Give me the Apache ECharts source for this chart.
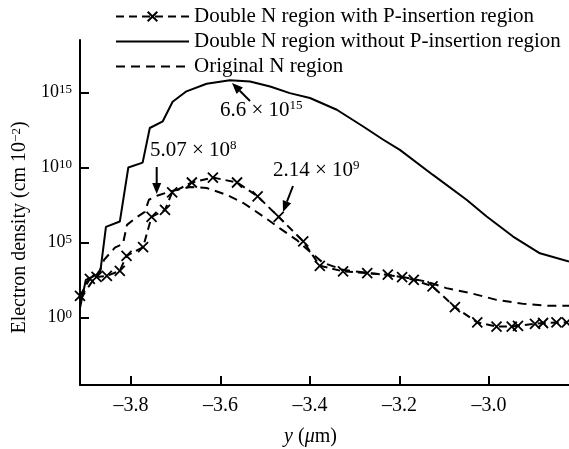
<!DOCTYPE html>
<html>
<head>
<meta charset="utf-8">
<script src="https://cdn.jsdelivr.net/npm/echarts@6/dist/echarts.min.js"></script>
<style>
html, body { margin: 0; padding: 0; background: #fff; }
#chart { width: 569px; height: 449px; }
</style>
</head>
<body>
<div id="chart"></div>
<script>
// y position (um) and electron density for each curve
const crossY = [-3.914, -3.892, -3.877, -3.854, -3.825, -3.810, -3.773, -3.754, -3.724, -3.708, -3.664, -3.617,
  -3.563, -3.517, -3.470, -3.415, -3.378, -3.326, -3.272, -3.226, -3.194, -3.168, -3.126, -3.076, -3.026,
  -2.983, -2.949, -2.935, -2.897, -2.879, -2.849, -2.826]
const crossDensity = [28, 380, 510, 600, 1300, 1.3e4, 4.9e4, 5.1e6, 1.5e7, 2.2e8, 1.0e9, 2.14e9,
  1.0e9, 1.2e8, 5.1e6, 1.2e5, 2.8e3, 1.2e3, 910, 710, 490, 320, 120, 4.9, 0.47,
  0.25, 0.25, 0.28, 0.38, 0.43, 0.47, 0.47]

const solidY = [-3.914, -3.901, -3.869, -3.856, -3.825, -3.806, -3.774, -3.758, -3.729, -3.707, -3.676, -3.631,
  -3.579, -3.534, -3.489, -3.445, -3.400, -3.340, -3.281, -3.236, -3.199, -3.125, -3.050, -3.005, -2.946,
  -2.886, -2.821]
const solidDensity = [4.3, 320, 910, 1.1e6, 2.5e6, 1.0e10, 2.1e10, 4.3e12, 1.2e13, 2.4e14, 1.2e15, 3.8e15,
  6.6e15, 5.4e15, 2.5e15, 9.1e14, 4.3e14, 7.1e13, 5.4e12, 7.1e11, 1.5e11, 3.2e9, 7.1e7, 5.4e6, 2.5e5,
  1.9e4, 5.4e3]

const origY = [-3.914, -3.892, -3.869, -3.860, -3.836, -3.818, -3.809, -3.789, -3.769, -3.760, -3.742, -3.713,
  -3.668, -3.631, -3.586, -3.549, -3.504, -3.468, -3.430, -3.400, -3.371, -3.326, -3.273, -3.199, -3.140,
  -3.095, -3.042, -2.983, -2.923, -2.864, -2.821]
const origDensity = [15, 150, 1500, 7100, 4.5e4, 8.1e4, 1.5e6, 4.5e6, 1.1e7, 7.1e7, 1.3e8, 2.5e8,
  5.07e8, 4.3e8, 1.5e8, 4.3e7, 5.4e6, 9.1e5, 1.5e5, 2.4e4, 4500, 1500, 950, 540, 250,
  91, 43, 15, 8.1, 6.0, 6.0]

const xTicks = [-3.8, -3.6, -3.4, -3.2, -3.0]
const yTicks = [0, 5, 10, 15]   // powers of ten

const seriesNames = ['Double N region with P-insertion region', 'Double N region without P-insertion region', 'Original N region']

const toPoints = (xs, ds) => xs.map((x, i) => [x, Math.log10(ds[i])])

const font = 'Liberation Serif, Times New Roman, serif'
const sup = { fontSize: 13, fontFamily: font, color: '#000', verticalAlign: 'top', lineHeight: 13 }

// arrow drawn as a line plus a filled head
function arrow(x1, y1, x2, y2) {
  let dx = x2 - x1, dy = y2 - y1
  let len = Math.sqrt(dx * dx + dy * dy)
  let ux = dx / len, uy = dy / len
  let bx = x2 - ux * 11, by = y2 - uy * 11
  return [
    { type: 'line', shape: { x1: x1, y1: y1, x2: bx, y2: by }, style: { stroke: '#000', lineWidth: 2 } },
    { type: 'polygon', shape: { points: [[x2, y2], [bx - uy * 4.5, by + ux * 4.5], [bx + uy * 4.5, by - ux * 4.5]] }, style: { fill: '#000' } }
  ]
}

function note(x, y, base, exp) {
  return {
    type: 'text', x: x, y: y,
    style: {
      text: base + '{s|' + exp + '}', font: '21px ' + font, fill: '#000',
      verticalAlign: 'middle', rich: { s: sup }
    }
  }
}

// one legend block per row so each row sits where the reference has it;
// the plain-line rows hide the legend marker
const legendTops = [6, 31, 56]
const legends = seriesNames.map((name, i) => ({
  data: [i === 0 ? name : { name: name, itemStyle: { opacity: 0 } }],
  orient: 'vertical',
  left: 115,
  top: legendTops[i],
  padding: 0,
  itemWidth: 73,
  itemHeight: 12,
  textStyle: { fontSize: 21, fontFamily: font, color: '#000' }
}))

let myChart = echarts.init(document.getElementById('chart'))
let option = {
  animation: false,
  grid: { left: 80, right: 0, top: 40, bottom: 64, outerBoundsMode: 'none' },
  legend: legends,
  xAxis: {
    type: 'value',
    min: -3.914,
    max: -2.821,
    name: '{i|y} ({i|\u03bc}m)',
    nameLocation: 'middle',
    nameGap: 42,
    nameTextStyle: {
      fontSize: 20, fontFamily: font, color: '#000', padding: [0, 28, 0, 0],
      rich: { i: { fontSize: 20, fontFamily: font, fontStyle: 'italic', color: '#000' } }
    },
    axisLine: { onZero: false, lineStyle: { color: '#000', width: 2 } },
    axisTick: { inside: true, length: 9, lineStyle: { width: 2 }, customValues: xTicks },
    axisLabel: {
      customValues: xTicks, fontSize: 20, fontFamily: font, color: '#000', margin: 11,
      formatter: v => '\u2013' + Math.abs(v).toFixed(1)
    },
    splitLine: { show: false }
  },
  yAxis: {
    type: 'value',
    min: -4.5,
    max: 18.5,
    name: 'Electron density (cm 10{s|\u22122})',
    nameLocation: 'middle',
    nameGap: 48,
    nameTextStyle: { fontSize: 20, fontFamily: font, color: '#000', padding: [0, 30, 0, 0], rich: { s: sup } },
    axisLine: { onZero: false, lineStyle: { color: '#000', width: 2 } },
    axisTick: { inside: true, length: 9, lineStyle: { width: 2 }, customValues: yTicks },
    axisLabel: {
      customValues: yTicks, fontSize: 18, fontFamily: font, color: '#000', margin: 8,
      formatter: v => '10{s|' + v + '}',
      rich: { s: sup }
    },
    splitLine: { show: false }
  },
  series: [
    {
      name: seriesNames[0],
      type: 'line',
      data: toPoints(crossY, crossDensity),
      symbol: 'path://M0,0L10,10M10,0L0,10',
      symbolSize: 10,
      showAllSymbol: true,
      lineStyle: { color: '#000', width: 2, type: [8, 5] },
      itemStyle: { color: '#000', borderColor: '#000', borderWidth: 1.8 }
    },
    {
      name: seriesNames[1],
      type: 'line',
      data: toPoints(solidY, solidDensity),
      showSymbol: false,
      lineStyle: { color: '#000', width: 2 },
      itemStyle: { color: '#000' }
    },
    {
      name: seriesNames[2],
      type: 'line',
      data: toPoints(origY, origDensity),
      showSymbol: false,
      lineStyle: { color: '#000', width: 2, type: [9, 6] },
      itemStyle: { color: '#000' }
    }
  ],
  graphic: [
    note(220, 110, '6.6 \u00d7 10', '15'),
    ...arrow(250, 101, 232, 83),
    note(150, 150, '5.07 \u00d7 10', '8'),
    ...arrow(156.7, 167, 156.7, 194),
    note(273, 170, '2.14 \u00d7 10', '9'),
    ...arrow(293, 186, 283, 212)
  ]
}
myChart.setOption(option)
</script>
</body>
</html>
